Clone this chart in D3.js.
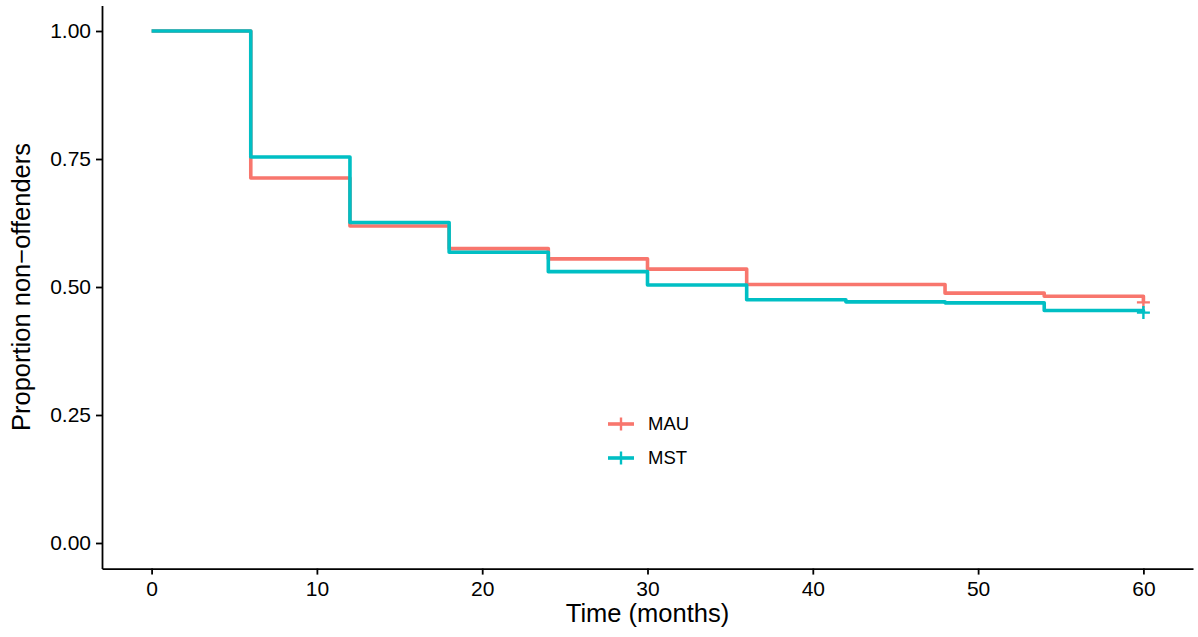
<!DOCTYPE html>
<html>
<head>
<meta charset="utf-8">
<script src="https://cdn.jsdelivr.net/npm/d3@7"></script>
<style>
  body { margin: 0; background: #fff; }
  text { font-family: "Liberation Sans", Arial, Helvetica, sans-serif; fill: #000; }
</style>
</head>
<body>
<div id="chart"></div>
<script>
// step times (months) and survival levels
var times = [0, 6, 12, 18, 24, 30, 36, 42, 48, 54, 60];
var mauValues = [1.0, 0.713, 0.619, 0.575, 0.555, 0.535, 0.505, 0.505, 0.488, 0.482, 0.470];
var mstValues = [1.0, 0.754, 0.626, 0.568, 0.530, 0.504, 0.475, 0.471, 0.469, 0.454, 0.450];
var groups = ["MAU", "MST"];
var colors = ["#F8766D", "#00BFC4"];
var xTicks = [0, 10, 20, 30, 40, 50, 60];
var yTicks = [0, 0.25, 0.5, 0.75, 1.0];
var censorTime = 60;

var width = 1198, height = 637;
var margin = {top: 5.4, right: 5, bottom: 68.4, left: 102};

var svg = d3.select("#chart").append("svg")
  .attr("width", width)
  .attr("height", height);

var x = d3.scaleLinear()
  .domain([-3, 63])
  .range([margin.left, width - margin.right]);

var y = d3.scaleLinear()
  .domain([-0.05, 1.05])
  .range([height - margin.bottom, margin.top]);

var series = [mauValues, mstValues].map(function(vals, i) {
  return {
    name: groups[i],
    color: colors[i],
    points: times.map(function(t, j) { return {t: t, s: vals[j]}; })
  };
});

var line = d3.line()
  .curve(d3.curveStepAfter)
  .x(function(d) { return x(d.t); })
  .y(function(d) { return y(d.s); });

svg.selectAll("path.km")
  .data(series)
  .enter()
  .append("path")
  .attr("class", "km")
  .attr("d", function(d) { return line(d.points); })
  .style("fill", "none")
  .style("stroke", function(d) { return d.color; })
  .style("stroke-width", 3.6)
  .style("stroke-linejoin", "round");

// censor marks
series.forEach(function(d) {
  var last = d.points[d.points.length - 1];
  var cx = x(censorTime), cy = y(last.s);
  svg.append("path")
    .attr("d", "M" + (cx - 6.5) + "," + cy + "h13M" + cx + "," + (cy - 6.5) + "v13")
    .style("stroke", d.color)
    .style("stroke-width", 2.4)
    .style("fill", "none");
});

// axes
var xAxis = svg.append("g")
  .attr("transform", "translate(0," + (height - margin.bottom) + ")")
  .call(d3.axisBottom(x).tickValues(xTicks).tickSize(6).tickSizeOuter(0).tickPadding(6));

var yAxis = svg.append("g")
  .attr("transform", "translate(" + margin.left + ",0)")
  .call(d3.axisLeft(y).tickValues(yTicks).tickFormat(d3.format(".2f")).tickSize(6).tickSizeOuter(0).tickPadding(5));

[xAxis, yAxis].forEach(function(g) {
  g.attr("font-family", null).attr("font-size", null);
  g.select(".domain").style("stroke", "#000").style("stroke-width", 1.8);
  g.selectAll(".tick line").style("stroke", "#000").style("stroke-width", 1.8);
  g.selectAll(".tick text").style("font-size", "21px").style("fill", "#000");
});

svg.append("text")
  .attr("x", (margin.left + width - margin.right) / 2)
  .attr("y", 622)
  .attr("text-anchor", "middle")
  .style("font-size", "25.5px")
  .text("Time (months)");

svg.append("text")
  .attr("transform", "translate(30," + ((margin.top + height - margin.bottom) / 2) + ") rotate(-90)")
  .attr("text-anchor", "middle")
  .style("font-size", "25.5px")
  .text("Proportion non\u2212offenders");

// legend
var legend = svg.append("g").attr("transform", "translate(608,424)");
groups.forEach(function(name, i) {
  var g = legend.append("g").attr("transform", "translate(0," + (i * 34) + ")");
  g.append("line")
    .attr("x1", 0).attr("x2", 26)
    .style("stroke", colors[i])
    .style("stroke-width", 3.6);
  g.append("line")
    .attr("x1", 13).attr("x2", 13).attr("y1", -6.5).attr("y2", 6.5)
    .style("stroke", colors[i])
    .style("stroke-width", 2.4);
  g.append("text")
    .attr("x", 40)
    .attr("dy", "0.35em")
    .style("font-size", "18.5px")
    .text(name);
});
</script>
</body>
</html>
